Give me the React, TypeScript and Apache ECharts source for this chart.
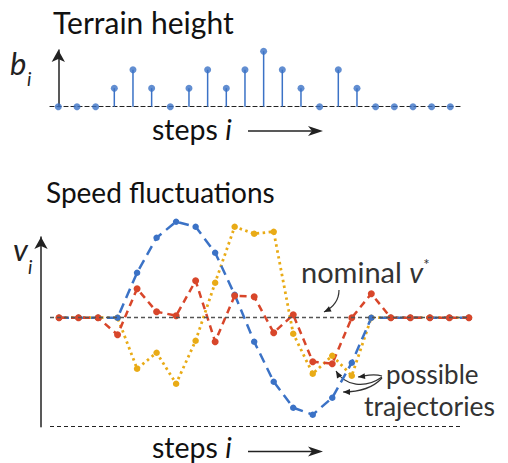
import React, { useEffect, useRef } from "react";
import * as echarts from "echarts";

// ---- data ----
const STEPS = [0, 1, 2, 3, 4, 5, 6, 7, 8, 9, 10, 11, 12, 13, 14, 15, 16, 17, 18, 19, 20, 21];
const TERRAIN = [0, 0, 0, 1, 2, 1, 0, 1, 2, 1, 2, 3, 2, 1, 0, 2, 1, 0, 0, 0, 0, 0];
const SPEED_BLUE = [0, 0, 0, 0, 4.5, 8.0, 9.6, 9.1, 6.5, 2.3, -2.4, -6.4, -9.0, -9.7, -8.0, -4.5, 0, 0, 0, 0, 0, 0];
const SPEED_RED = [0, 0, 0, -1.7, 2.9, 0.6, 0.2, 3.7, -2.4, 2.2, 2.1, -1.5, 0.3, -4.4, -4.6, 0, 2.4, 0, 0, 0, 0, 0];
const SPEED_YELLOW = [0, 0, 0, 0, -5.1, -3.5, -6.6, -2.3, 3.5, 9.1, 8.4, 8.6, -1.6, -5.6, -3.8, -5.8, 0, 0, 0, 0, 0, 0];
const NOMINAL = 0;
const LOWER_LINE = -10.9;

const BLUE = "#3b72c6";
const RED = "#d8462a";
const YELLOW = "#e9ab16";
const FONT = "Lato, 'Open Sans', sans-serif";

function arrowHead(tx: number, ty: number, fx: number, fy: number, len: number, half: number, notch = 0) {
  const dx = tx - fx;
  const dy = ty - fy;
  const d = Math.sqrt(dx * dx + dy * dy) || 1;
  const ux = dx / d;
  const uy = dy / d;
  const bx = tx - ux * len;
  const by = ty - uy * len;
  const nx = -uy;
  const ny = ux;
  const pts: number[][] = [
    [tx, ty],
    [bx + nx * half, by + ny * half],
  ];
  if (notch > 0) pts.push([tx - ux * (len - notch), ty - uy * (len - notch)]);
  pts.push([bx - nx * half, by - ny * half]);
  return {
    type: "polygon",
    shape: { points: pts },
    style: { fill: "#222" },
    silent: true,
  };
}

function curve(x1: number, y1: number, cx1: number, cy1: number, cx2: number, cy2: number, x2: number, y2: number) {
  return [
    {
      type: "bezierCurve",
      shape: { x1, y1, cpx1: cx1, cpy1: cy1, cpx2: cx2, cpy2: cy2, x2, y2 },
      style: { stroke: "#333", lineWidth: 1.2, fill: null },
      silent: true,
    },
    arrowHead(x2, y2, cx2, cy2, 7, 3),
  ];
}

function stepsArrow(y: number, ty: number) {
  return [
    {
      type: "text",
      x: 152,
      y: ty,
      style: {
        text: "{r|steps }{i|i}",
        verticalAlign: "middle",
        rich: {
          r: { fontFamily: FONT, fontSize: 28.5, fill: "#111" },
          i: { fontFamily: FONT, fontSize: 28.5, fontStyle: "italic", fill: "#111" },
        },
      },
    },
    {
      type: "line",
      shape: { x1: 248, y1: y, x2: 315, y2: y },
      style: { stroke: "#222", lineWidth: 1.5 },
    },
    arrowHead(323, y, 248, y, 15, 5, 4),
  ];
}

export default function App() {
  const ref = useRef<HTMLDivElement>(null);
  useEffect(() => {
    document.body.style.margin = "0";
    if (!ref.current) return;
    const chart = echarts.init(ref.current, undefined, { renderer: "svg" });

    const pairs = (vals: number[]) => STEPS.map((s, k) => [s, vals[k]]);

    const option: any = {
      animation: false,
      textStyle: { fontFamily: FONT },
      grid: [
        { left: 50, top: 50, width: 413, height: 56.7 },
        { left: 50, top: 237, width: 418.9, height: 189.7 },
      ],
      xAxis: [
        {
          gridIndex: 0,
          type: "value",
          min: -0.445,
          max: 21.68,
          axisLine: { show: true, lineStyle: { color: "#222", width: 1.2, type: [4, 3] } },
          axisTick: { show: false },
          axisLabel: { show: false },
          splitLine: { show: false },
        },
        {
          gridIndex: 1,
          type: "value",
          min: -0.461,
          max: 21,
          axisLine: { show: false },
          axisTick: { show: false },
          axisLabel: { show: false },
          splitLine: { show: false },
        },
      ],
      yAxis: [
        {
          gridIndex: 0,
          type: "value",
          min: 0,
          max: 3.065,
          offset: 9,
          axisLine: {
            show: true,
            symbol: ["none", "arrow"],
            symbolSize: [10, 12],
            lineStyle: { color: "#222", width: 1.5 },
          },
          axisTick: { show: false },
          axisLabel: { show: false },
          splitLine: { show: false },
        },
        {
          gridIndex: 1,
          type: "value",
          min: LOWER_LINE,
          max: 8.07,
          offset: 9,
          axisLine: {
            show: true,
            onZero: false,
            symbol: ["none", "arrow"],
            symbolSize: [10, 12],
            lineStyle: { color: "#222", width: 1.5 },
          },
          axisTick: { show: false },
          axisLabel: { show: false },
          splitLine: { show: false },
        },
      ],
      series: [
        {
          type: "bar",
          xAxisIndex: 0,
          yAxisIndex: 0,
          barWidth: 1.5,
          itemStyle: { color: BLUE },
          data: pairs(TERRAIN),
          silent: true,
        },
        {
          type: "scatter",
          xAxisIndex: 0,
          yAxisIndex: 0,
          symbolSize: 7,
          itemStyle: { color: BLUE },
          data: pairs(TERRAIN),
          z: 3,
        },
        {
          type: "line",
          xAxisIndex: 1,
          yAxisIndex: 1,
          clip: false,
          symbol: "circle",
          symbolSize: 6.5,
          itemStyle: { color: YELLOW },
          lineStyle: { color: YELLOW, width: 2.8, type: [2.5, 3.5] },
          data: pairs(SPEED_YELLOW),
          markLine: {
            silent: true,
            symbol: "none",
            label: { show: false },
            data: [
              [
                { coord: [-0.461, NOMINAL], lineStyle: { color: "#555", width: 1.3, type: [4, 3] } },
                { coord: [21, NOMINAL] },
              ],
              [
                { coord: [-0.461, LOWER_LINE], lineStyle: { color: "#222", width: 1.2, type: [4, 3] } },
                { coord: [20.69, LOWER_LINE] },
              ],
            ],
          },
        },
        {
          type: "line",
          xAxisIndex: 1,
          yAxisIndex: 1,
          clip: false,
          symbol: "circle",
          symbolSize: 6.5,
          itemStyle: { color: BLUE },
          lineStyle: { color: BLUE, width: 2.5, type: [10, 6] },
          data: pairs(SPEED_BLUE),
        },
        {
          type: "line",
          xAxisIndex: 1,
          yAxisIndex: 1,
          clip: false,
          symbol: "circle",
          symbolSize: 7,
          itemStyle: { color: RED },
          lineStyle: { color: RED, width: 2.5, type: [7, 5] },
          data: pairs(SPEED_RED),
        },
      ],
      graphic: [
        {
          type: "text",
          x: 53,
          y: 22,
          style: { text: "Terrain height", fontFamily: FONT, fontSize: 30, fill: "#111", verticalAlign: "middle" },
        },
        {
          type: "text",
          x: 46,
          y: 192,
          style: { text: "Speed fluctuations", fontFamily: FONT, fontSize: 28, fill: "#111", verticalAlign: "middle" },
        },
        {
          type: "text",
          x: 10,
          y: 63,
          style: { text: "b", fontFamily: FONT, fontSize: 31, fontStyle: "italic", fill: "#222", verticalAlign: "middle" },
        },
        {
          type: "text",
          x: 27,
          y: 78,
          style: { text: "i", fontFamily: FONT, fontSize: 19, fontStyle: "italic", fill: "#222", verticalAlign: "middle" },
        },
        {
          type: "text",
          x: 13,
          y: 249,
          style: { text: "v", fontFamily: FONT, fontSize: 31, fontStyle: "italic", fill: "#222", verticalAlign: "middle" },
        },
        {
          type: "text",
          x: 28,
          y: 266,
          style: { text: "i", fontFamily: FONT, fontSize: 19, fontStyle: "italic", fill: "#222", verticalAlign: "middle" },
        },
        {
          type: "text",
          x: 301,
          y: 271,
          style: {
            text: "{r|nominal }{v|v}{s|*}",
            verticalAlign: "middle",
            rich: {
              r: { fontFamily: FONT, fontSize: 29, fill: "#333" },
              v: { fontFamily: FONT, fontSize: 29, fontStyle: "italic", fill: "#333" },
              s: { fontFamily: FONT, fontSize: 15, fill: "#333", padding: [0, 0, 15, 0] },
            },
          },
        },
        {
          type: "text",
          x: 386,
          y: 374,
          style: { text: "possible", fontFamily: FONT, fontSize: 26, fill: "#333", verticalAlign: "middle" },
        },
        {
          type: "text",
          x: 364,
          y: 406,
          style: { text: "trajectories", fontFamily: FONT, fontSize: 26.5, fill: "#333", verticalAlign: "middle" },
        },
        ...curve(339, 290, 339, 300, 334, 307, 324, 312),
        ...curve(382, 376, 372, 373, 366, 376, 358, 377),
        ...curve(382, 377, 365, 389, 345, 386, 336, 371),
        ...curve(382, 378, 372, 389, 358, 392, 343, 392),
        ...stepsArrow(131, 129),
        ...stepsArrow(451.5, 446.5),
      ],
    };

    chart.setOption(option);
    return () => chart.dispose();
  }, []);

  return <div ref={ref} style={{ width: 508, height: 463 }} />;
}
